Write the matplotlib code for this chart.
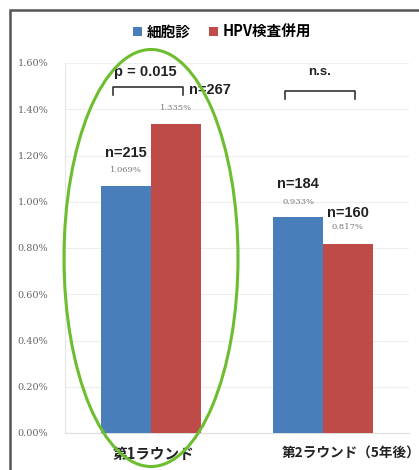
import matplotlib
matplotlib.use("Agg")
import matplotlib.pyplot as plt
from matplotlib.patches import Ellipse, Rectangle
import numpy as np

plt.rcParams['font.family'] = ['Noto Sans CJK JP', 'DejaVu Sans']

categories = ["第1ラウンド", "第2ラウンド（5年後）"]
series_names = ["細胞診", "HPV検査併用"]
cytology = [1.069, 0.933]
hpv_combined = [1.335, 0.817]
n_cytology = [215, 184]
n_hpv = [267, 160]
sig_labels = ["p = 0.015", "n.s."]
yticks = [0.0, 0.2, 0.4, 0.6, 0.8, 1.0, 1.2, 1.4, 1.6]

blue = "#4A7EBB"
red = "#BE4B48"

W, H = 419, 470
fig = plt.figure(figsize=(W / 100, H / 100), dpi=100)
ax = fig.add_axes([65 / W, (H - 433) / H, 344 / W, 370 / H])

x = np.arange(len(categories))
bw = 0.29
b1 = ax.bar(x - bw / 2, cytology, bw, color=blue, label=series_names[0], zorder=3)
b2 = ax.bar(x + bw / 2, hpv_combined, bw, color=red, label=series_names[1], zorder=3)

ax.set_xlim(-0.5, 1.5)
ax.set_ylim(0, 1.6)
ax.set_yticks(yticks)
ax.set_yticklabels([f"{v:.2f}%" for v in yticks], family="DejaVu Serif",
                   fontsize=7, color="#666666")
ax.tick_params(axis="y", length=0, pad=12)
ax.set_xticks([])
ax.grid(axis="y", color="#EEEEEE", lw=0.8, zorder=0)
for s in ["top", "right"]:
    ax.spines[s].set_visible(False)
ax.spines["left"].set_color("#E6E6E6")
ax.spines["bottom"].set_color("#DDDDDD")

# category labels
cat_styles = [("center", 2, 10.5), ("left", -30, 9.8)]
for i, (c, (ha, off, fs)) in enumerate(zip(categories, cat_styles)):
    ax.annotate(c, xy=(i, 0), xycoords=("data", "axes fraction"),
                xytext=(off, -15), textcoords="offset points",
                ha=ha, va="center", fontsize=fs, fontweight="bold",
                color="#222222", annotation_clip=False)

# value labels and n labels
for i in range(len(categories)):
    xb = x[i] - bw / 2
    xr = x[i] + bw / 2
    ax.text(xb, cytology[i] + 0.068, f"{cytology[i]:.3f}%", ha="center", va="center",
            family="DejaVu Serif", fontsize=6, color="#777777")
    ax.text(xb, cytology[i] + 0.142, f"n={n_cytology[i]}", ha="center", va="center",
            family="Liberation Sans", fontsize=10.5, fontweight="bold", color="#222222")
    ax.text(xr, hpv_combined[i] + 0.072, f"{hpv_combined[i]:.3f}%", ha="center", va="center",
            family="DejaVu Serif", fontsize=6, color="#777777")

# n label for HPV: group 1 beside bracket, group 2 above bar
ax.text(x[0] + bw / 2 + 0.2, 1.483, f"n={n_hpv[0]}", ha="center", va="center",
        family="Liberation Sans", fontsize=10.5, fontweight="bold", color="#222222")
ax.text(x[1] + bw / 2, hpv_combined[1] + 0.135, f"n={n_hpv[1]}", ha="center", va="center",
        family="Liberation Sans", fontsize=10.5, fontweight="bold", color="#222222")

# significance brackets
br_y = [1.496, 1.479]
br_drop = 0.035
for i in range(len(categories)):
    xl = x[i] - bw / 2 - 0.075
    xr_ = x[i] + bw / 2 + 0.04
    ax.plot([xl, xl, xr_, xr_], [br_y[i] - br_drop, br_y[i], br_y[i], br_y[i] - br_drop],
            color="#222222", lw=1.1, clip_on=False, zorder=4)
    ax.text((xl + xr_) / 2 - (0.015 if i == 0 else 0), 1.563, sig_labels[i], ha="center",
            va="center", family="Liberation Sans", fontsize=10.5 if i == 0 else 9.5,
            fontweight="bold", color="#222222", clip_on=False)

# legend
fig.legend(handles=[b1, b2], labels=series_names, loc="center",
           bbox_to_anchor=(222 / W, 1 - 32 / H), ncol=2, frameon=False,
           handlelength=0.6, handleheight=0.6, handletextpad=0.3, columnspacing=1.3,
           prop={"family": ["Noto Sans CJK JP", "DejaVu Sans"], "weight": "bold", "size": 10.5})

# green ellipse highlighting round 1 (figure pixel coords)
ell = Ellipse((151 / W, 1 - 258 / H), 174 / W, 417 / H, transform=fig.transFigure,
              fill=False, edgecolor="#6DBE2F", lw=2.2, zorder=10)
fig.patches.append(ell)

# outer frame
frame = Rectangle((10 / W, -0.1), 1.2, 1 - 10 / H + 0.1, transform=fig.transFigure,
                  fill=False, edgecolor="#555555", lw=1.8)
fig.patches.append(frame)

fig.savefig("out.png", dpi=100)
